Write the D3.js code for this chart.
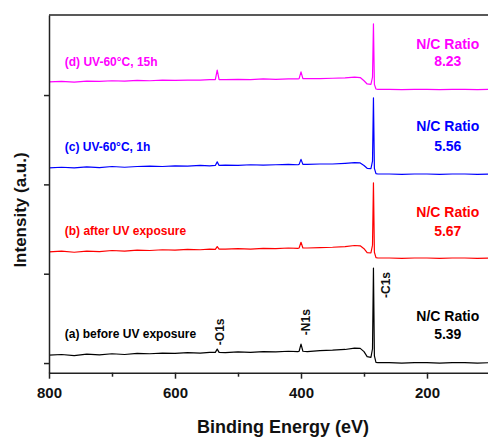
<!DOCTYPE html>
<html>
<head>
<meta charset="utf-8">
<script src="https://cdn.jsdelivr.net/npm/d3@7"></script>
<style>
  body { margin: 0; background: #fff; }
  text { font-family: Arial, "Liberation Sans", sans-serif; font-weight: bold; }
</style>
</head>
<body>
<svg width="488" height="438"></svg>
<script>
// binding energy grid (eV), shared by all four spectra
const energy = [800, 780, 760, 740, 720, 700, 680, 660, 640, 620, 600, 580, 560, 545,
  536, 533, 530, 520, 500, 480, 460, 440, 420, 405, 403, 400, 397, 390, 370, 350, 330,
  315, 306, 300, 295, 289, 286.5, 285, 283.5, 281, 278, 260, 240, 220, 200, 180, 160, 140, 120, 100]

const specA = [2.2, 2.4, 2.1, 2.5, 2.3, 2.6, 2.4, 2.7, 2.6, 2.8, 2.7, 2.9, 2.8, 3.0,
  3.0, 3.9, 3.0, 2.9, 3.1, 3.0, 3.2, 3.1, 3.3, 3.2, 3.3, 5.3, 3.3, 3.2, 3.5, 3.6, 3.8,
  4.2, 4.1, 3.2, 1.8, 1.6, 4.0, 26.6, 2.0, 0.2, 0.1, 0.1, 0.0, 0.1, 0.1, 0.0, 0.1, 0.1, 0.0, 0.1]
const specB = [31.1, 31.3, 31.0, 31.3, 31.2, 31.5, 31.3, 31.6, 31.5, 31.7, 31.6, 31.8, 31.7, 31.9,
  31.8, 32.6, 31.9, 31.9, 32.0, 31.9, 32.1, 32.0, 32.2, 32.1, 32.2, 33.8, 32.2, 32.2, 32.3, 32.4, 32.6,
  32.9, 32.8, 32.0, 30.9, 30.8, 33.0, 50.4, 31.0, 29.5, 29.4, 29.4, 29.3, 29.4, 29.4, 29.3, 29.4, 29.4, 29.3, 29.4]
const specC = [54.6, 54.8, 54.6, 54.9, 54.7, 55.0, 54.8, 55.0, 55.1, 55.0, 55.2, 55.1, 55.3, 55.2,
  55.3, 56.3, 55.3, 55.4, 55.3, 55.5, 55.4, 55.5, 55.6, 55.5, 55.6, 57.0, 55.6, 55.6, 55.7, 55.7, 55.9,
  56.1, 56.0, 55.3, 54.5, 54.4, 56.5, 74.2, 54.5, 53.0, 52.9, 52.9, 52.8, 52.9, 52.9, 52.8, 52.9, 52.9, 52.8, 52.9]
const specD = [78.7, 78.8, 78.6, 78.9, 78.8, 79.0, 78.9, 79.1, 79.0, 79.2, 79.1, 79.2, 79.2, 79.3,
  79.3, 82.0, 79.3, 79.3, 79.4, 79.3, 79.5, 79.4, 79.5, 79.5, 79.6, 81.5, 79.6, 79.6, 79.6, 79.7, 79.8,
  80.0, 79.9, 79.0, 78.1, 78.0, 80.0, 94.9, 78.0, 76.7, 76.6, 76.6, 76.5, 76.6, 76.6, 76.5, 76.6, 76.6, 76.5, 76.6]

const sampleNames = ['(a) before UV exposure', '(b) after UV exposure', '(c) UV-60°C, 1h', '(d) UV-60°C, 15h']
const ratios = ['5.39', '5.67', '5.56', '8.23']
const colors = ['#000000', '#ff0000', '#0000ff', '#ff00ff']
// label heights in intensity units: sample name / ratio title / ratio value
const nameY = [7.0, 35.8, 59.4, 83.1]
const ratioTitleY = [11.7, 40.9, 64.9, 87.9]
const ratioValY = [6.7, 35.6, 59.4, 83.1]

const peakNames = ['-O1s', '-N1s', '-C1s']
const peakEnergy = [533, 400, 285]
const peakLabelY = [5.0, 7.8, 18.2]
const peakShift = [4, 6, 13]

const majorX = [800, 600, 400, 200]
const minorX = [700, 500, 300]
const yTicks = [0, 25, 50, 75]

const svg = d3.select('svg')
const width = +svg.attr('width')

const x = d3.scaleLinear().domain([800, 100]).range([49, 490])
const y = d3.scaleLinear().domain([-2.7, 97.4]).range([372.7, 15])

const spectra = [specA, specB, specC, specD]

const line = d3.line()
  .x(d => x(d[0]))
  .y(d => y(d[1]))

spectra.forEach((s, i) => {
  svg.append('path')
    .datum(energy.map((e, j) => [e, s[j]]))
    .attr('fill', 'none')
    .attr('stroke', colors[i])
    .attr('stroke-width', 1.2)
    .attr('stroke-linejoin', 'round')
    .attr('d', line)

  svg.append('text')
    .attr('x', x(775))
    .attr('y', y(nameY[i]))
    .attr('fill', colors[i])
    .attr('font-size', 12)
    .text(sampleNames[i])

  svg.append('text')
    .attr('x', x(167))
    .attr('y', y(ratioTitleY[i]))
    .attr('fill', colors[i])
    .attr('font-size', 14)
    .attr('text-anchor', 'middle')
    .text('N/C Ratio')

  svg.append('text')
    .attr('x', x(167))
    .attr('y', y(ratioValY[i]))
    .attr('fill', colors[i])
    .attr('font-size', 14)
    .attr('text-anchor', 'middle')
    .text(ratios[i])
})

// peak labels, rotated
peakNames.forEach((p, i) => {
  const px = x(peakEnergy[i]) + peakShift[i]
  const py = y(peakLabelY[i])
  svg.append('text')
    .attr('transform', `translate(${px},${py}) rotate(-90)`)
    .attr('dominant-baseline', 'middle')
    .attr('font-size', 12)
    .attr('fill', '#111')
    .text(p)
})

// axes
const axisColor = '#222'
const gx = svg.append('g')
  .attr('transform', `translate(0,${y.range()[0]})`)
  .call(d3.axisBottom(x).tickValues(majorX).tickSize(6).tickSizeOuter(0).tickFormat(d3.format('d')))
gx.selectAll('text').attr('font-size', 15).attr('dy', '1.1em').attr('fill', '#111')

svg.append('g')
  .attr('transform', `translate(0,${y.range()[0]})`)
  .call(d3.axisBottom(x).tickValues(minorX).tickSize(4).tickFormat(''))
  .select('.domain').remove()

svg.append('g')
  .attr('transform', `translate(${x.range()[0]},0)`)
  .call(d3.axisLeft(y).tickValues(yTicks).tickSize(5).tickSizeOuter(0).tickFormat(''))

svg.selectAll('.domain, .tick line')
  .attr('stroke', axisColor)
  .attr('stroke-width', 1.5)
svg.selectAll('.tick text').attr('font-family', null)

// top frame line
svg.append('line')
  .attr('x1', x.range()[0]).attr('x2', width)
  .attr('y1', y.range()[1]).attr('y2', y.range()[1])
  .attr('stroke', axisColor)
  .attr('stroke-width', 1.5)

svg.append('text')
  .attr('x', 283)
  .attr('y', 433)
  .attr('text-anchor', 'middle')
  .attr('font-size', 18)
  .attr('fill', '#111')
  .text('Binding Energy (eV)')

svg.append('text')
  .attr('transform', 'translate(26,210) rotate(-90)')
  .attr('text-anchor', 'middle')
  .attr('font-size', 17)
  .attr('fill', '#111')
  .text('Intensity (a.u.)')
</script>
</body>
</html>
